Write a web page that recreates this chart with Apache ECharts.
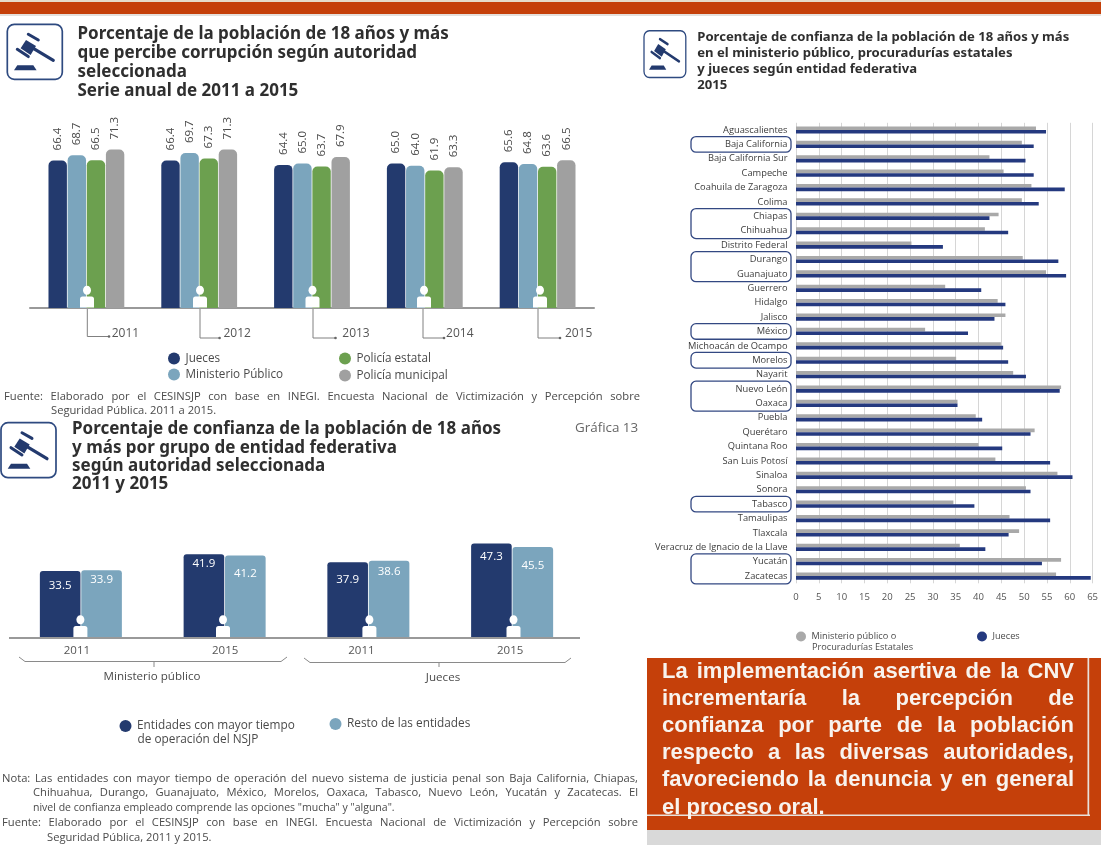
<!DOCTYPE html>
<html><head><meta charset="utf-8">
<style>html,body{margin:0;padding:0;background:#fff}#c{width:1101px;height:845px}</style>
<script src="https://cdn.jsdelivr.net/npm/echarts@6/dist/echarts.min.js"></script>
</head><body><div id="c"></div>
<script>
// ---- data: chart 1 (corrupción)
const years = ['2011','2012','2013','2014','2015'];
const corrJueces = [66.4,66.4,64.4,65.0,65.6];
const corrMinisterio = [68.7,69.7,65.0,64.0,64.8];
const corrEstatal = [66.5,67.3,63.7,61.9,63.6];
const corrMunicipal = [71.3,71.3,67.9,63.3,66.5];
// ---- data: chart 2 (confianza por entidad, 2015)
const states = ['Aguascalientes','Baja California','Baja California Sur','Campeche','Coahuila de Zaragoza','Colima','Chiapas','Chihuahua','Distrito Federal','Durango','Guanajuato','Guerrero','Hidalgo','Jalisco','México','Michoacán de Ocampo','Morelos','Nayarit','Nuevo León','Oaxaca','Puebla','Querétaro','Quintana Roo','San Luis Potosí','Sinaloa','Sonora','Tabasco','Tamaulipas','Tlaxcala','Veracruz de Ignacio de la Llave','Yucatán','Zacatecas'];
const stMinisterio = [52.6,49.5,42.4,45.5,51.6,49.5,44.4,41.4,25.3,49.7,54.8,32.7,44.2,45.9,28.3,44.9,35.1,47.6,58.1,35.4,39.4,52.3,40.0,43.7,57.3,50.4,34.5,46.8,48.9,35.9,58.1,57.0];
const stJueces = [54.8,52.1,50.3,52.1,58.9,53.2,42.4,46.5,32.2,57.5,59.2,40.6,45.9,43.5,37.7,45.4,46.5,50.4,57.8,35.4,40.8,51.4,45.2,55.7,60.6,51.4,39.1,55.7,46.6,41.5,53.9,64.6];
// ---- data: chart 3 (confianza por grupo)
const groupYears = ['2011','2015','2011 ','2015 '];
const grpMayor = [33.5,41.9,37.9,47.3];
const grpResto = [33.9,41.2,38.6,45.5];

// ---- layout tweaks (kept apart from the data)
const yearLabelShift = [39,38,44,35,41];
const connectors = [[87.3,336.5,109],[200,338,219.6],[313,338,335.5],[423,338,444],[538,338,560]];
const persons1 = [87,200,312.5,424,540];
const persons3 = [80.4,223,369.4,513.5];
const grpLabelShift = [-4,0.5,-7,-2];
const grpDropMayor = [9,4,12,7];
const grpDropResto = [4,12.5,5,13];
const highlight = [[1,1],[6,7],[9,10],[14,14],[16,16],[18,19],[26,26],[30,31]];

const NAVY='#233A6E', BLUE='#7BA5BD', GREEN='#6CA04F', GRAY='#A0A0A0', NAVY2='#24397F', GRAY2='#A9A9A9', ORANGE='#C5400A';
const TXT='#4A4A4A', FONT='"Open Sans"';

const g=[];
const mctx=document.createElement('canvas').getContext('2d');
function measure(s,size,w,fam){mctx.font=`${w} ${size}px ${fam}`;return mctx.measureText(s).width;}
function text(x,y,s,o={}){g.push({type:'text',x,y,z:o.z||50,style:{text:s,fill:o.fill||TXT,fontFamily:o.fam||FONT,fontSize:o.size||11.5,fontWeight:o.weight||'normal',textAlign:o.align||'left',textVerticalAlign:'middle'},scaleX:o.scaleX||1,originX:0});}
function just(s,x0,x1,y,o={}){
  const size=o.size||11.5,w=o.weight||'normal',fam=o.fam||FONT;
  const nat=measure(s,size,w,fam),target=x1-x0;
  if(nat>=target){text(x0,y,s,{...o,scaleX:target/nat});return;}
  const words=s.split(' ');
  const ws=words.map(t=>measure(t,size,w,fam));
  const gap=(target-ws.reduce((a,b)=>a+b,0))/(words.length-1);
  let x=x0;words.forEach((t,i)=>{text(x,y,t,o);x+=ws[i]+gap;});
}
function rect(x,y,w,h,fill,z){g.push({type:'rect',z:z||40,shape:{x,y,width:w,height:h},style:{fill}});}
function poly(pts,stroke,lw,z){g.push({type:'polyline',z:z||50,shape:{points:pts},style:{stroke,lineWidth:lw,fill:null}});}
function person(cx,base){
  g.push({type:'ellipse',z:60,shape:{cx,cy:base-17.3,rx:4,ry:4.5},style:{fill:'#fff'}});
  g.push({type:'rect',z:60,shape:{x:cx-7,y:base-11,width:14,height:11,r:[2.5,2.5,0,0]},style:{fill:'#fff'}});
}
function icon(x,y,sx,sy){
  const c=NAVY;
  g.push({type:'group',x,y,scaleX:sx,scaleY:sy,children:[
    {type:'rect',z:50,shape:{x:0,y:0,width:55,height:55,r:7},style:{fill:'#fff',stroke:'#2E4A80',lineWidth:1.7}},
    {type:'polygon',z:51,shape:{points:[[6.7,46],[29.3,46],[26,41],[10,41]]},style:{fill:c}},
    {type:'polygon',z:51,shape:{points:[[18.7,15.7],[28.7,21.7],[23.3,30.7],[13.3,24]]},style:{fill:c}},
    {type:'line',z:51,shape:{x1:21,y1:10,x2:31,y2:15.7},style:{stroke:c,lineWidth:3,lineCap:'round'}},
    {type:'line',z:51,shape:{x1:10,y1:25,x2:21,y2:32.3},style:{stroke:c,lineWidth:3,lineCap:'round'}},
    {type:'line',z:51,shape:{x1:26,y1:24,x2:46,y2:36},style:{stroke:c,lineWidth:3.2,lineCap:'round'}}
  ]});
}

// page furniture
rect(0,0,1101,2,'#E6DCCB');
rect(0,2,1101,12,ORANGE);
rect(0,14,1101,2,'#E4E0DC');
rect(647,658,454,172,ORANGE);
rect(647,830,454,15,'#D9D9D9');
rect(647,814.5,443,1.5,'#E8E2DC',41);
rect(1087.5,658,1.7,158,'#E8E2DC',41);

// titles
const T={weight:'bold',fill:'#2F2F2F',fam:'"Noto Sans"'};
icon(7.3,24.3,1,1);
['Porcentaje de la población de 18 años y más','que percibe corrupción según autoridad','seleccionada','Serie anual de 2011 a 2015'].forEach((s,i)=>text(77.5,[34,53,72,90.7][i],s,{...T,size:17}));
icon(1,422.7,1,1);
['Porcentaje de confianza de la población de 18 años','y más por grupo de entidad federativa','según autoridad seleccionada','2011 y 2015'].forEach((s,i)=>text(72,[429,447.7,466,484.3][i],s,{...T,size:17}));
text(575,428,'Gráfica 13',{size:13.4,fill:'#666'});
icon(644,30.7,0.76,0.85);
['Porcentaje de confianza de la población de 18 años y más','en el ministerio público, procuradurías estatales','y jueces según entidad federativa','2015'].forEach((s,i)=>text(697.3,[37.3,53.3,69,85][i],s,{...T,size:13.1}));

// chart 1 furniture
persons1.forEach(x=>person(x,307.5));
connectors.forEach(c=>{poly([[c[0],309],[c[0],c[1]],[c[2],c[1]]],'#808080',1);
  g.push({type:'circle',z:50,shape:{cx:c[2],cy:c[1],r:1.3},style:{fill:'#666'}});});
just('Fuente: Elaborado por el CESINSJP con base en INEGI. Encuesta Nacional de Victimización y Percepción sobre',4,640,397,{size:11.2});
text(51,411,'Seguridad Pública. 2011 a 2015.',{size:11.2});

// chart 2 furniture
highlight.forEach(h=>{
  const y0=130+14.39*h[0]-7.8,y1=130+14.39*h[1]+7.8;
  g.push({type:'rect',z:50,shape:{x:691,y:y0,width:100,height:y1-y0,r:5},style:{fill:'transparent',stroke:'#334882',lineWidth:1.3}});
});
text(812,647.7,'Procuradurías Estatales',{size:9.2});

// chart 3 furniture
persons3.forEach(x=>person(x,637));
rect(9,637,571,2,'#999',45);
poly([[19,657],[25,661.5],[281,661.5],[287,657]],'#8A8A8A',1);
poly([[154,661.5],[154,667]],'#8A8A8A',1);
poly([[304,658],[310,662.5],[565,662.5],[571,658]],'#8A8A8A',1);
poly([[439,662.5],[439,667]],'#8A8A8A',1);
text(152,677,'Ministerio público',{align:'center',size:11.6});
text(443,678,'Jueces',{align:'center',size:11.6});
text(137.6,740,'de operación del NSJP',{size:11.8});
just('Nota: Las entidades con mayor tiempo de operación del nuevo sistema de justicia penal son Baja California, Chiapas,',2,638,779,{size:11.2});
just('Chihuahua, Durango, Guanajuato, México, Morelos, Oaxaca, Tabasco, Nuevo León, Yucatán y Zacatecas. El',33,638,793,{size:11.2});
text(33,808,'nivel de confianza empleado comprende las opciones "mucha" y "alguna".',{size:11.2,scaleX:0.94});
just('Fuente: Elaborado por el CESINSJP con base en INEGI. Encuesta Nacional de Victimización y Percepción sobre',2,638,823,{size:11.2});
text(47,837.5,'Seguridad Pública, 2011 y 2015.',{size:11.2});

// orange message
const M={size:22,weight:'bold',fill:'#F8F3EE',fam:'"Liberation Sans"',z:55};
just('La implementación asertiva de la CNV',662,1074,672,M);
just('incrementaría la percepción de',662,1074,699.3,M);
just('confianza por parte de la población',662,1074,726,M);
just('respecto a las diversas autoridades,',662,1074,753,M);
just('favoreciendo la denuncia y en general',662,1074,780,M);
text(662,808,'el proceso oral.',M);

const r=[5,5,0,0];
const barLabel={show:true,position:'top',rotate:90,distance:10,align:'left',verticalAlign:'middle',fontSize:11.5,color:'#4A4A4A',fontFamily:FONT,formatter:p=>p.value.toFixed(1)};
function s1(name,data,color){return {type:'bar',name,data,xAxisIndex:0,yAxisIndex:0,barWidth:18.4,barGap:'4%',itemStyle:{color,borderRadius:r},label:barLabel,silent:true};}
function s3(name,data,drop,color){return {type:'bar',name,xAxisIndex:2,yAxisIndex:2,barWidth:40.6,barGap:'2%',itemStyle:{color,borderRadius:[3,3,0,0]},silent:true,
  data:data.map((v,i)=>({value:v,label:{show:true,position:'insideTop',distance:drop[i],color:'#fff',fontSize:11.5,fontFamily:FONT,formatter:p=>p.value.toFixed(1)}}))};}
const legendText={fontSize:11.7,color:TXT,fontFamily:FONT};
const rich1={};yearLabelShift.forEach((d,i)=>rich1['y'+i]={padding:[0,0,0,2*d],fontSize:12,color:'#555',fontFamily:FONT});
const rich3={};grpLabelShift.forEach((d,i)=>rich3['y'+i]={padding:d>0?[0,0,0,2*d]:[0,-2*d,0,0],fontSize:11.5,color:'#555',fontFamily:FONT});

const nameMinisterio2='Ministerio público o\nProcuradurías Estatales';
const nameMayor='Entidades con mayor tiempo\nde operación del NSJP';
const option={
  animation:false,backgroundColor:'#fff',
  graphic:{elements:g},
  legend:[
    {left:168,top:352.5,padding:0,orient:'vertical',itemGap:4,itemWidth:13,itemHeight:12,icon:'circle',textStyle:legendText,selectedMode:false,
     data:[{name:'Jueces',itemStyle:{color:NAVY}},{name:'Ministerio Público',itemStyle:{color:BLUE}}]},
    {left:339,top:352.5,padding:0,orient:'vertical',itemGap:5,itemWidth:13,itemHeight:12,icon:'circle',textStyle:legendText,selectedMode:false,
     data:['Policía estatal','Policía municipal']},
    {left:796,top:631.5,padding:0,itemWidth:11,itemHeight:10,icon:'circle',textStyle:{...legendText,fontSize:9.2},selectedMode:false,formatter:n=>n.split('\n')[0],
     data:[{name:nameMinisterio2,itemStyle:{color:GRAY2}}]},
    {left:977,top:631.5,padding:0,itemWidth:11,itemHeight:10,icon:'circle',textStyle:{...legendText,fontSize:9.2},selectedMode:false,
     data:[{name:'Jueces',itemStyle:{color:NAVY2}}]},
    {left:119.5,top:720,padding:0,itemWidth:13,itemHeight:12,icon:'circle',textStyle:{...legendText,fontSize:11.8},selectedMode:false,formatter:n=>n.split('\n')[0],
     data:[{name:nameMayor,itemStyle:{color:NAVY}}]},
    {left:329.5,top:718,padding:0,itemWidth:13,itemHeight:12,icon:'circle',textStyle:{...legendText,fontSize:11.8},selectedMode:false,
     data:[{name:'Resto de las entidades',itemStyle:{color:BLUE}}]}
  ],
  grid:[
    {left:30,top:148,width:564,height:160},
    {left:796,top:122.8,width:298,height:460.5},
    {left:9,top:538,width:575,height:100}
  ],
  xAxis:[
    {gridIndex:0,type:'category',data:years,axisLine:{lineStyle:{color:'#999',width:2}},axisTick:{show:false},
     axisLabel:{margin:20,formatter:(v,i)=>`{y${i}|${v}}`,rich:rich1}},
    {gridIndex:1,type:'value',min:0,max:65,interval:5,axisLine:{show:false},axisTick:{show:false},
     splitLine:{show:true,lineStyle:{color:'#D6D6D6',width:1}},
     axisLabel:{margin:9,fontSize:9.5,color:'#555',fontFamily:FONT}},
    {gridIndex:2,type:'category',data:groupYears,axisLine:{show:false},axisTick:{show:false},
     axisLabel:{margin:7,formatter:(v,i)=>`{y${i}|${v.trim()}}`,rich:rich3}}
  ],
  yAxis:[
    {gridIndex:0,type:'value',min:0,max:72,show:false},
    {gridIndex:1,type:'category',data:states,inverse:true,axisLine:{show:false},axisTick:{show:false},
     axisLabel:{margin:8.5,interval:0,fontSize:9.3,color:'#3C3C3C',fontFamily:FONT}},
    {gridIndex:2,type:'value',min:0,max:50,show:false}
  ],
  series:[
    s1('Jueces',corrJueces,NAVY),
    s1('Ministerio Público',corrMinisterio,BLUE),
    s1('Policía estatal',corrEstatal,GREEN),
    s1('Policía municipal',corrMunicipal,GRAY),
    {type:'bar',name:nameMinisterio2,data:stMinisterio,xAxisIndex:1,yAxisIndex:1,barWidth:3.6,barGap:'0%',itemStyle:{color:GRAY2},silent:true},
    {type:'bar',name:'Jueces',data:stJueces,xAxisIndex:1,yAxisIndex:1,barWidth:3.6,barGap:'0%',itemStyle:{color:NAVY2},silent:true},
    s3(nameMayor,grpMayor,grpDropMayor,NAVY),
    s3('Resto de las entidades',grpResto,grpDropResto,BLUE)
  ]
};
echarts.init(document.getElementById('c'),null,{renderer:'canvas'}).setOption(option);
</script></body></html>
